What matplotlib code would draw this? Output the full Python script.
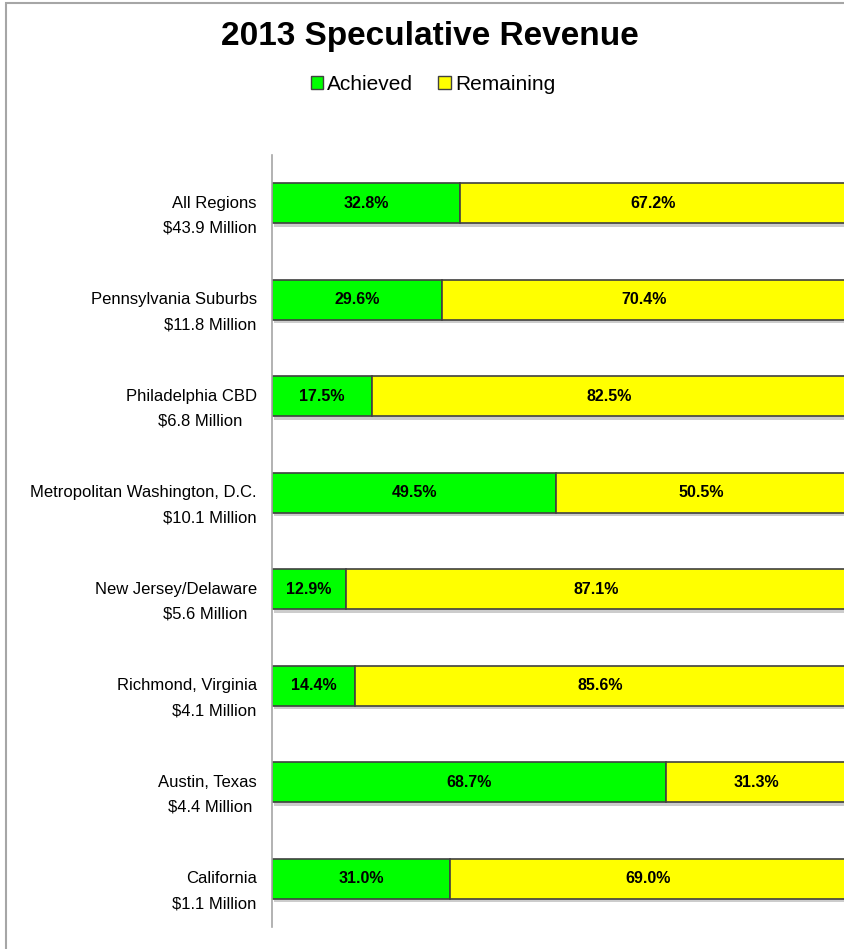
import matplotlib
matplotlib.use("Agg")
import matplotlib.pyplot as plt
import matplotlib.patheffects as pe
from matplotlib.patches import Rectangle, Patch
import numpy as np

plt.rcParams["font.family"] = ["Liberation Sans", "DejaVu Sans"]

regions = ["All Regions", "Pennsylvania Suburbs", "Philadelphia CBD",
           "Metropolitan Washington, D.C.", "New Jersey/Delaware",
           "Richmond, Virginia", "Austin, Texas", "California"]
totals = ["$43.9 Million", "$11.8 Million", "$6.8 Million   ",
          "$10.1 Million", "$5.6 Million  ", "$4.1 Million",
          "$4.4 Million ", "$1.1 Million"]
achieved = [32.8, 29.6, 17.5, 49.5, 12.9, 14.4, 68.7, 31.0]
remaining = [67.2, 70.4, 82.5, 50.5, 87.1, 85.6, 31.3, 69.0]

green = "#00ff00"
yellow = "#ffff00"

fig = plt.figure(figsize=(8.45, 9.49), dpi=100)

# outer chart border (right / bottom are cut off in the reference)
fig.patches.append(Rectangle((6 / 845, -0.1), 1.2, 1 - 3 / 949 + 0.1,
                             transform=fig.transFigure, fill=False,
                             edgecolor="#a6a6a6", lw=1.5))

ax = fig.add_axes([272 / 845, 1 - 927 / 949, 574 / 845, (927 - 155) / 949])

y = np.arange(len(regions))
shadow = [pe.SimplePatchShadow(offset=(1.5, -2.5), shadow_rgbFace="#000000",
                               alpha=0.2), pe.Normal()]

ax.barh(y, achieved, height=0.41, color=green, edgecolor="#404040",
        lw=1.2, path_effects=shadow)
ax.barh(y, remaining, left=achieved, height=0.41, color=yellow,
        edgecolor="#404040", lw=1.2, path_effects=shadow)

for i in range(len(regions)):
    ax.text(achieved[i] / 2, y[i], f"{achieved[i]:.1f}%", ha="center",
            va="center", fontsize=11.5, fontweight="bold")
    ax.text(achieved[i] + remaining[i] / 2, y[i], f"{remaining[i]:.1f}%",
            ha="center", va="center", fontsize=11.5, fontweight="bold")
    ax.annotate(regions[i], xy=(0, y[i]), xycoords=("axes fraction", "data"),
                xytext=(-11, 0), textcoords="offset points", ha="right",
                va="center", fontsize=12)
    ax.annotate(totals[i], xy=(0, y[i] + 0.26),
                xycoords=("axes fraction", "data"), xytext=(-11, 0),
                textcoords="offset points", ha="right", va="center",
                fontsize=12)

ax.set_xlim(0, 100)
ax.set_ylim(len(regions) - 0.5, -0.5)
ax.set_xticks([])
ax.set_yticks([])
for side in ["top", "right", "bottom"]:
    ax.spines[side].set_visible(False)
ax.spines["left"].set_color("#a6a6a6")
ax.spines["left"].set_linewidth(1.2)

fig.text(430 / 845, 1 - 37 / 949, "2013 Speculative Revenue", ha="center",
         va="center", fontsize=24, fontweight="bold")

handles = [Patch(facecolor=green, edgecolor="#404040", lw=1, label="Achieved"),
           Patch(facecolor=yellow, edgecolor="#404040", lw=1,
                 label="Remaining")]
fig.legend(handles=handles, loc="center", ncol=2,
           bbox_to_anchor=(433 / 845, 1 - 84 / 949), frameon=False,
           fontsize=15, handlelength=0.6, handleheight=0.6,
           handletextpad=0.2, columnspacing=1.2)

fig.savefig("out.png", dpi=100)
